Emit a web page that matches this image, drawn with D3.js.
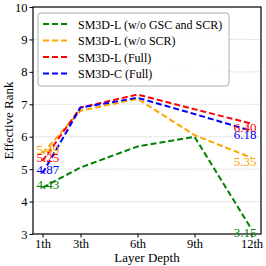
<!DOCTYPE html>
<html>
<head>
<meta charset="utf-8">
<script src="https://cdn.jsdelivr.net/npm/d3@7"></script>
<style>
  body { margin: 0; background: #fff; }
  text { font-family: "Liberation Serif", "DejaVu Serif", serif; }
</style>
</head>
<body>
<div id="chart"></div>
<script>
// layer numbers and their tick labels
var layers = [1, 3, 6, 9, 12];
var layerLabels = ["1th", "3th", "6th", "9th", "12th"];
var yTicks = [3, 4, 5, 6, 7, 8, 9, 10];

var seriesNames = ["SM3D-L (w/o GSC and SCR)", "SM3D-L (w/o SCR)", "SM3D-L (Full)", "SM3D-C (Full)"];
var seriesColors = ["green", "orange", "red", "blue"];
var noGscScr = [4.43, 5.05, 5.70, 6.00, 3.15];
var noScr = [5.49, 6.80, 7.17, 6.05, 5.35];
var lFull = [5.25, 6.90, 7.30, 6.85, 6.40];
var cFull = [4.87, 6.90, 7.20, 6.70, 6.18];
var allSeries = [noGscScr, noScr, lFull, cFull];

var W = 266, H = 266;
var margin = {left: 33, right: 5, top: 7, bottom: 32};

var svg = d3.select("#chart").append("svg")
    .attr("width", W).attr("height", H);

var x = d3.scaleLinear().domain([0.5, 12.5]).range([margin.left, W - margin.right]);
var y = d3.scaleLinear().domain([3, 10]).range([H - margin.bottom, margin.top]);

// grid
svg.append("g").selectAll("line").data(yTicks.slice(1, -1)).enter().append("line")
    .attr("x1", x.range()[0]).attr("x2", x.range()[1])
    .attr("y1", d => y(d)).attr("y2", d => y(d))
    .attr("stroke", "#cfcfcf").attr("stroke-width", 0.8).attr("stroke-dasharray", "1.5,1");

// axes
var yAxis = d3.axisLeft(y).tickValues(yTicks).tickFormat(d3.format("d")).tickSize(3.5).tickPadding(2);
var gy = svg.append("g").attr("transform", "translate(" + margin.left + ",0)").call(yAxis);
var xAxis = d3.axisBottom(x).tickValues(layers).tickFormat((d, i) => layerLabels[i]).tickSize(3.5).tickPadding(2);
var gx = svg.append("g").attr("transform", "translate(0," + (H - margin.bottom) + ")").call(xAxis);
[gx, gy].forEach(g => {
    g.select(".domain").remove();
    g.selectAll("text").attr("font-size", 12.5).attr("fill", "#000");
    g.selectAll("line").attr("stroke", "#000");
});

// frame
svg.append("rect")
    .attr("x", margin.left).attr("y", margin.top)
    .attr("width", W - margin.left - margin.right).attr("height", H - margin.top - margin.bottom)
    .attr("fill", "none").attr("stroke", "#000").attr("stroke-width", 1.2);

// lines
var line = d3.line().x((d, i) => x(layers[i])).y(d => y(d));
allSeries.forEach(function(s, k) {
    svg.append("path").attr("d", line(s))
        .attr("fill", "none").attr("stroke", seriesColors[k])
        .attr("stroke-width", 2).attr("stroke-dasharray", "6,3");
});

// value labels at first and last layer
allSeries.forEach(function(s, k) {
    svg.append("text")
        .attr("x", x(layers[0]) - 6).attr("y", y(s[0]) + 1)
        .attr("fill", seriesColors[k]).attr("font-size", 13)
        .text(s[0].toFixed(2));
    svg.append("text")
        .attr("x", x(layers[4]) + 5).attr("y", y(s[4]) + 8)
        .attr("text-anchor", "end")
        .attr("fill", seriesColors[k]).attr("font-size", 13)
        .text(s[4].toFixed(2));
});

// legend
var lg = svg.append("g").attr("transform", "translate(38,13)");
lg.append("rect").attr("width", 191).attr("height", 73).attr("rx", 3)
    .attr("fill", "#fff").attr("fill-opacity", 0.85)
    .attr("stroke", "#999").attr("stroke-width", 0.8);
seriesNames.forEach(function(name, k) {
    var yy = 11 + k * 16.5;
    lg.append("line").attr("x1", 5).attr("x2", 30).attr("y1", yy).attr("y2", yy)
        .attr("stroke", seriesColors[k]).attr("stroke-width", 2).attr("stroke-dasharray", "6,3");
    lg.append("text").attr("x", 40).attr("y", yy + 4.5).attr("font-size", 12).text(name);
});

// axis titles
svg.append("text")
    .attr("x", (margin.left + W - margin.right) / 2).attr("y", H - 4)
    .attr("text-anchor", "middle").attr("font-size", 13).text("Layer Depth");
svg.append("text")
    .attr("transform", "translate(13," + ((margin.top + H - margin.bottom) / 2) + ") rotate(-90)")
    .attr("text-anchor", "middle").attr("font-size", 13).text("Effective Rank");
</script>
</body>
</html>
